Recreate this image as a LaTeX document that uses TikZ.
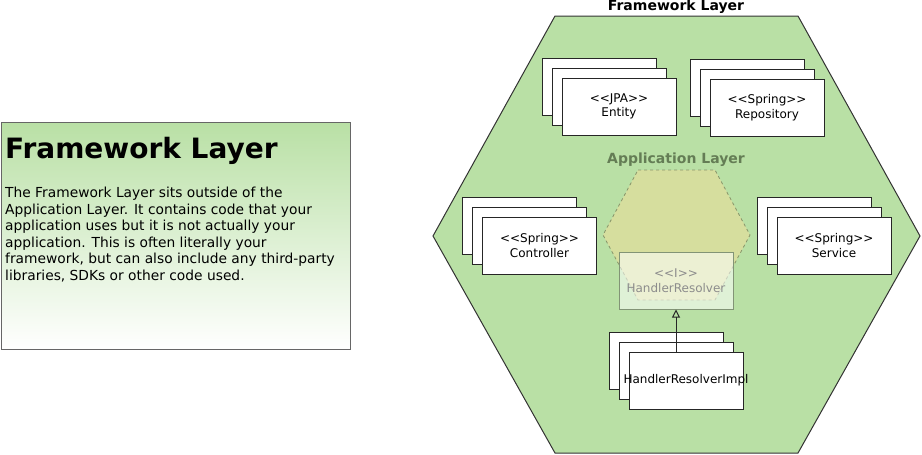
\documentclass[tikz,border=0pt]{standalone}
\usepackage{fontspec}
\setmainfont{DejaVu Sans}[Ligatures=ResetAll]
\usetikzlibrary{arrows.meta}
\definecolor{fwgreen}{HTML}{B9E0A5}
\definecolor{applfill}{HTML}{D6DE9E}
\definecolor{applline}{RGB}{135,148,105}
\definecolor{appltext}{RGB}{100,125,85}
\definecolor{hrline}{RGB}{130,148,118}
\definecolor{hrtext}{RGB}{140,140,140}
\definecolor{boxline}{HTML}{666666}
\tikzset{
  umlbox/.style={draw=black!85, fill=white, line width=1pt, minimum width=114pt, minimum height=57pt, inner sep=0pt, align=center, font=\fontsize{12}{14.5}\selectfont},
  hrbox/.style={draw=hrline, fill=white, fill opacity=0.55, text opacity=1, line width=1pt, minimum width=114pt, minimum height=57pt, inner sep=0pt, align=center, font=\fontsize{12}{14.5}\selectfont, text=hrtext},
  layertitle/.style={font=\bfseries\fontsize{14}{16}\selectfont, inner sep=0pt, anchor=base},
}
\begin{document}
\begin{tikzpicture}[x=1pt,y=-1pt]
\useasboundingbox (0,0) rectangle (922,455);
% left description box
\node[draw=boxline, line width=1pt, top color=fwgreen, bottom color=white, minimum width=349pt, minimum height=227pt, inner sep=0pt, anchor=north west] (desc) at (1,122) {};
\node[anchor=base west, inner sep=0pt, font=\bfseries\fontsize{28}{32}\selectfont] (desctitle) at (5,158) {Framework Layer};
\node[anchor=north west, inner sep=0pt, align=left, font=\fontsize{13.8}{16.5}\selectfont] (descbody) at (5,187) {The Framework Layer sits outside of the\\Application Layer. It contains code that your\\application uses but it is not actually your\\application. This is often literally your\\framework, but can also include any third-party\\libraries, SDKs or other code used.};
% framework hexagon
\draw[fill=fwgreen, draw=black!80, line width=1pt] (555,16) -- (798,16) -- (920,236) -- (798,453) -- (555,453) -- (433,236) -- cycle;
\node[layertitle] (fwtitle) at (676,10.5) {Framework Layer};
% entity
\node[umlbox] (e1) at (599,86.5) {};
\node[umlbox] (e2) at (609,96.5) {};
\node[umlbox] (e3) at (619,106.5) {<{}<JPA>{}>\\Entity};
% repository
\node[umlbox] (r1) at (747,87.5) {};
\node[umlbox] (r2) at (757,97.5) {};
\node[umlbox] (r3) at (767,107.5) {<{}<Spring>{}>\\Repository};
% controller
\node[umlbox] (c1) at (519.5,225.5) {};
\node[umlbox] (c2) at (529.5,235.5) {};
\node[umlbox] (c3) at (539.5,245.5) {<{}<Spring>{}>\\Controller};
% service
\node[umlbox] (s1) at (814,225.5) {};
\node[umlbox] (s2) at (824,235.5) {};
\node[umlbox] (s3) at (834,245.5) {<{}<Spring>{}>\\Service};
% application hexagon
\draw[fill=applfill, draw=applline, dashed, line width=0.8pt] (638,170) -- (715,170) -- (750,235) -- (715,300) -- (638,300) -- (603,235) -- cycle;
\node[layertitle, text=appltext] (apptitle) at (676,163) {Application Layer};
% handler resolver interface
\node[hrbox] (hr) at (676,280.5) {<{}<I>{}>\\HandlerResolver};
% handler resolver impl
\node[umlbox] (h1) at (666,360.5) {};
\node[umlbox] (h2) at (676,370.5) {};
\node[umlbox] (h3) at (686,380.5) {\makebox[0pt][c]{HandlerResolverImpl}};
\draw[-{Triangle[open, length=8pt, width=8pt]}, line width=1pt, black!85] (676,352) -- (hr.south);
\end{tikzpicture}
\end{document}
